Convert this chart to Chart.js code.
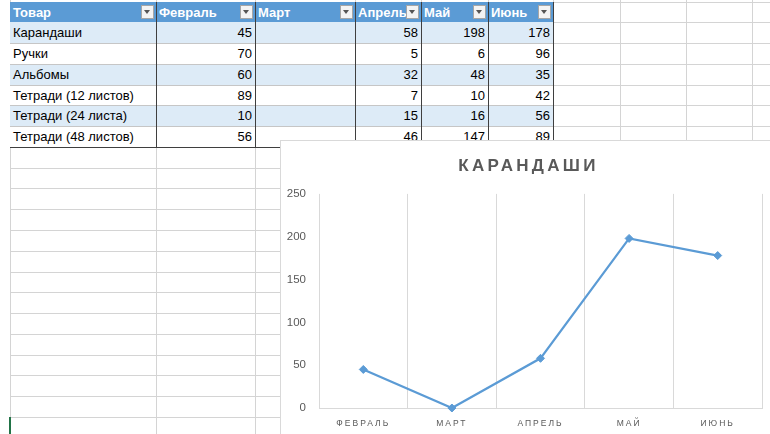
<!DOCTYPE html>
<html lang="ru">
<head>
<meta charset="utf-8">
<title>Карандаши</title>
<script src="https://cdn.jsdelivr.net/npm/chart.js@4.4.0/dist/chart.umd.min.js"></script>
<style>
  html, body { margin: 0; padding: 0; width: 770px; height: 434px; overflow: hidden; background: #fff; }
  body { font-family: "Liberation Sans", Arial, sans-serif; }
  #sheet { position: absolute; left: 0; top: 0; width: 770px; height: 434px; }
  .cell { position: absolute; box-sizing: border-box; font-size: 13px; color: #000; white-space: nowrap; overflow: hidden; padding: 3px 3px 0 3px; }
  .num { text-align: right; }
  .head { background: #5b9bd5; color: #fff; font-weight: bold; }
  .btn { position: absolute; box-sizing: border-box; width: 13px; height: 14px; background: #f4f4f4; border: 1px solid #a6a6a6; z-index: 2; }
  .btn::after { content: ""; position: absolute; left: 2px; top: 4px; border-left: 3.5px solid transparent; border-right: 3.5px solid transparent; border-top: 4px solid #555; }
  #chartBox { position: absolute; left: 280px; top: 140px; width: 520px; height: 320px; background: #fff; border: 1px solid #d9d9d9; z-index: 5; }
  #chartWrap { position: absolute; left: 0; top: 0; width: 495px; height: 293px; }
</style>
</head>
<body>
<div id="sheet"></div>
<div id="chartBox"><div id="chartWrap"><canvas id="chart"></canvas></div></div>
<script>
// table / chart data
const months = ['Февраль', 'Март', 'Апрель', 'Май', 'Июнь'];
const products = ['Карандаши', 'Ручки', 'Альбомы', 'Тетради (12 листов)', 'Тетради (24 листа)', 'Тетради (48 листов)'];
const pencils = [45, null, 58, 198, 178];
const pens = [70, null, 5, 6, 96];
const albums = [60, null, 32, 48, 35];
const notebooks12 = [89, null, 7, 10, 42];
const notebooks24 = [10, null, 15, 16, 56];
const notebooks48 = [56, null, 46, 147, 89];
const yTicks = [0, 50, 100, 150, 200, 250];

// sheet geometry
const colX = [10, 156, 255, 355, 421, 488, 553, 620, 686, 752, 818];
const rowH = 20.77;
const rowTop0 = 1.5;
const rTop = i => Math.round(rowTop0 + i * rowH);

const sheet = document.getElementById('sheet');
function box(css, cls) {
  const d = document.createElement('div');
  d.style.cssText = 'position:absolute;' + css;
  if (cls) d.className = cls;
  sheet.appendChild(d);
  return d;
}

// light grid
for (const x of colX) box(`left:${x}px;top:0;width:1px;height:434px;background:#d4d4d4`);
for (let i = 0; i < 22; i++) box(`left:10px;top:${rTop(i)}px;width:760px;height:1px;background:#d4d4d4`);

// table
const rows = [pencils, pens, albums, notebooks12, notebooks24, notebooks48];
const headers = ['Товар', ...months];
headers.forEach((h, c) => {
  const w = colX[c + 1] - colX[c];
  const cell = box(`left:${colX[c]}px;top:${rTop(0)}px;width:${w}px;height:${rTop(1) - rTop(0)}px`, 'cell head');
  cell.textContent = h;
  box(`left:${colX[c + 1] - 15}px;top:${rTop(0) + 3}px`, 'btn');
});
rows.forEach((vals, r) => {
  const bg = r % 2 === 0 ? '#ddebf7' : '#fff';
  const top = rTop(r + 1), h = rTop(r + 2) - top;
  const name = box(`left:${colX[0]}px;top:${top}px;width:${colX[1] - colX[0]}px;height:${h}px;background:${bg}`, 'cell');
  name.textContent = products[r];
  vals.forEach((v, c) => {
    const cell = box(`left:${colX[c + 1]}px;top:${top}px;width:${colX[c + 2] - colX[c + 1]}px;height:${h}px;background:${bg}`, 'cell num');
    cell.textContent = v === null ? '' : v;
  });
  if (r > 0) box(`left:${colX[0]}px;top:${top}px;width:${colX[6] - colX[0]}px;height:1px;background:#c6c6c6`);
});
// table borders
for (let c = 1; c <= 6; c++) box(`left:${colX[c]}px;top:${rTop(0)}px;width:1px;height:${rTop(7) - rTop(0)}px;background:#3f3f3f`);
box(`left:${colX[0]}px;top:${rTop(7)}px;width:${colX[6] - colX[0] + 1}px;height:1px;background:#3f3f3f`);
// active cell edge
box('left:9px;top:417px;width:2px;height:17px;background:#217346');

// letter spacing for title and category labels; title centred on the whole chart
const spacingPlugin = {
  id: 'spacing',
  afterLayout(chart) {
    const ctx = chart.ctx;
    const t = chart.titleBlock;
    if (t && !t._spaced) {
      const d = t.draw;
      t.draw = function () { ctx.save(); ctx.translate(7, 0); ctx.letterSpacing = '3.3px'; d.apply(this, arguments); ctx.restore(); };
      t._spaced = true;
    }
    const x = chart.scales.x;
    if (x && !x._spaced) {
      const d = x.drawLabels;
      x.drawLabels = function () { ctx.save(); ctx.letterSpacing = '2px'; d.apply(this, arguments); ctx.restore(); };
      x._spaced = true;
    }
  }
};

Chart.defaults.font.family = '"Liberation Sans", Arial, sans-serif';

new Chart(document.getElementById('chart'), {
  type: 'line',
  data: {
    labels: months,
    datasets: [{
      label: products[0],
      // empty March cell is plotted as zero
      data: pencils.map(v => v ?? 0),
      borderColor: '#5b9bd5',
      backgroundColor: '#5b9bd5',
      borderWidth: 2.25,
      pointStyle: 'rectRot',
      pointRadius: 4,
      pointBorderWidth: 1,
      tension: 0,
      clip: false
    }]
  },
  options: {
    responsive: true,
    maintainAspectRatio: false,
    animation: false,
    layout: { padding: { left: 0, right: 14, top: 0, bottom: 0 } },
    plugins: {
      legend: { display: false },
      tooltip: { enabled: false },
      title: {
        display: true,
        text: products[0].toUpperCase(),
        color: '#595959',
        font: { size: 17, weight: 'bold' },
        padding: { top: 15.5, bottom: 17 }
      }
    },
    scales: {
      x: {
        offset: true,
        grid: { offset: true, color: '#d9d9d9', drawTicks: false },
        border: { color: '#d9d9d9' },
        ticks: {
          color: '#595959',
          font: { size: 8.5 },
          padding: 11,
          callback: (v, i) => months[i].toUpperCase()
        },
        afterFit(s) { s.height = 26; }
      },
      y: {
        min: 0,
        max: 250,
        afterBuildTicks(s) { s.ticks = yTicks.map(v => ({ value: v })); },
        grid: { display: false, drawTicks: false },
        border: { display: false },
        ticks: { color: '#595959', font: { size: 11.5 }, padding: 13 },
        afterFit(s) { s.width = 38; }
      }
    }
  },
  plugins: [spacingPlugin]
});
</script>
</body>
</html>
